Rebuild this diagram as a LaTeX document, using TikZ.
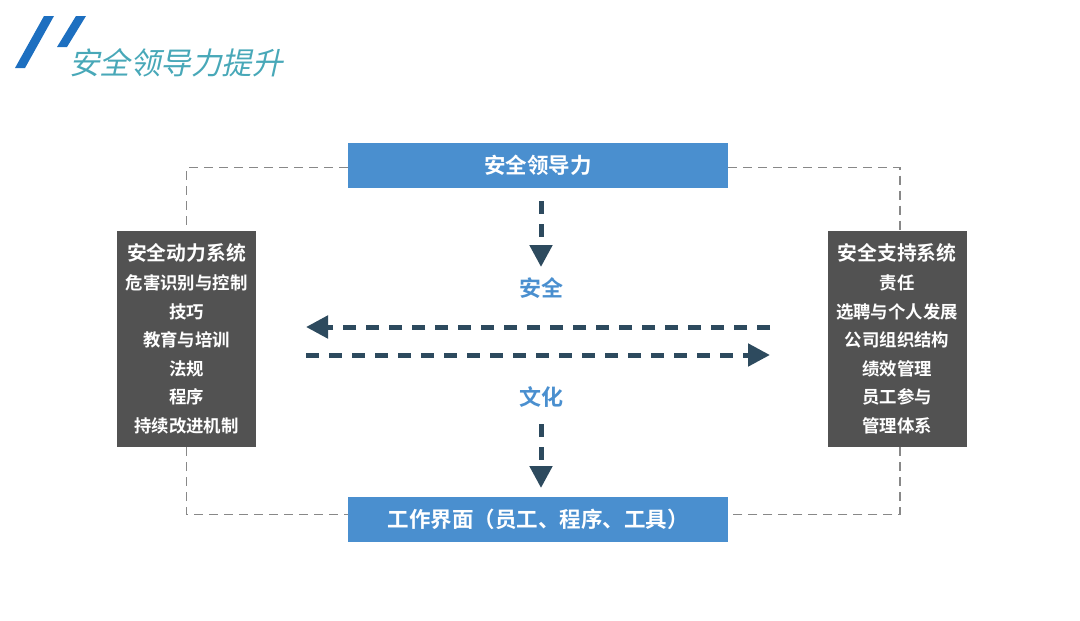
\documentclass[tikz,border=0pt]{standalone}
\usepackage{fontspec}
\setmainfont{Noto Sans CJK SC}[BoldFont=Noto Sans CJK SC Bold]
\newfontfamily\titlefont{Noto Sans CJK SC}[FakeSlant=0.22]
\usetikzlibrary{arrows.meta,positioning}

\definecolor{leadblue}{HTML}{4A8FCF}
\definecolor{boxgray}{HTML}{525252}
\definecolor{linkgray}{HTML}{888888}
\definecolor{flowdark}{HTML}{2D4A5E}
\definecolor{titleteal}{HTML}{48A8B8}
\definecolor{slashblue}{HTML}{1D6FC0}

\begin{document}
\begin{tikzpicture}[x=1pt,y=-1pt,
    bluebox/.style={fill=leadblue, text=white, minimum width=380pt, minimum height=45pt,
      inner sep=0pt, font=\bfseries\fontsize{21.5}{24}\selectfont},
    darkbox/.style={fill=boxgray, text=white, minimum width=139pt, minimum height=216pt,
      inner sep=0pt, align=center, font=\bfseries\fontsize{17.4}{28.6}\selectfont},
    link/.style={draw=linkgray, line width=1.8pt, dash pattern=on 9pt off 6pt},
    flow/.style={draw=flowdark, line width=5pt, dash pattern=on 13pt off 10pt,
      -{Triangle[length=22pt,width=22pt]}},
    word/.style={text=leadblue, font=\bfseries\fontsize{22}{24}\selectfont}]
    \useasboundingbox (0,0) rectangle (1080,621);

    % title
    \fill[slashblue] (15,68) -- (25,68) -- (54,16) -- (44,16) -- cycle;
    \fill[slashblue] (57,47) -- (67,47) -- (86,16) -- (76,16) -- cycle;
    \node[anchor=west, text=titleteal, inner sep=0pt,
      font=\titlefont\fontsize{30.5}{32}\selectfont] (title) at (69,63) {安全领导力提升};

    % boxes
    \node[bluebox] (lead) at (538,165.5) {安全领导力};
    \node[bluebox] (iface) at (538,519.5) {工作界面（员工、程序、工具）};
    \node[darkbox] (power) at (186.5,339)
      {{\fontsize{19.8}{28.6}\selectfont 安全动力系统}\\危害识别与控制\\技巧\\教育与培训\\法规\\程序\\持续改进机制};
    \node[darkbox] (support) at (897,339)
      {{\fontsize{19.8}{28.6}\selectfont 安全支持系统}\\责任\\选聘与个人发展\\公司组织结构\\绩效管理\\员工参与\\管理体系};
    \node[word] (safe) at (541,288) {安全};
    \node[word] (culture) at (541,397) {文化};

    % frame links
    \draw[link] ([yshift=-2pt]lead.west) -| (power.north);
    \draw[link] ([yshift=-2pt]lead.east) -| ([xshift=3pt]support.north);
    \draw[link] (power.south) |- ([yshift=5pt]iface.west);
    \draw[link] ([xshift=3pt]support.south) |- ([yshift=5pt]iface.east);

    % flows
    \coordinate (upS) at (541,201);
    \coordinate (upE) at (541,267);
    \coordinate (loS) at (541,424);
    \coordinate (loE) at (541,488);
    \coordinate (leftA) at (306,327);
    \coordinate (rightA) at (770,327);
    \coordinate (leftB) at (306,355);
    \coordinate (rightB) at (770,355);
    \draw[flow] (upS) -- (upE);
    \draw[flow] (loS) -- (loE);
    \draw[flow] (rightA) -- (leftA);
    \draw[flow] (leftB) -- (rightB);
\end{tikzpicture}
\end{document}
